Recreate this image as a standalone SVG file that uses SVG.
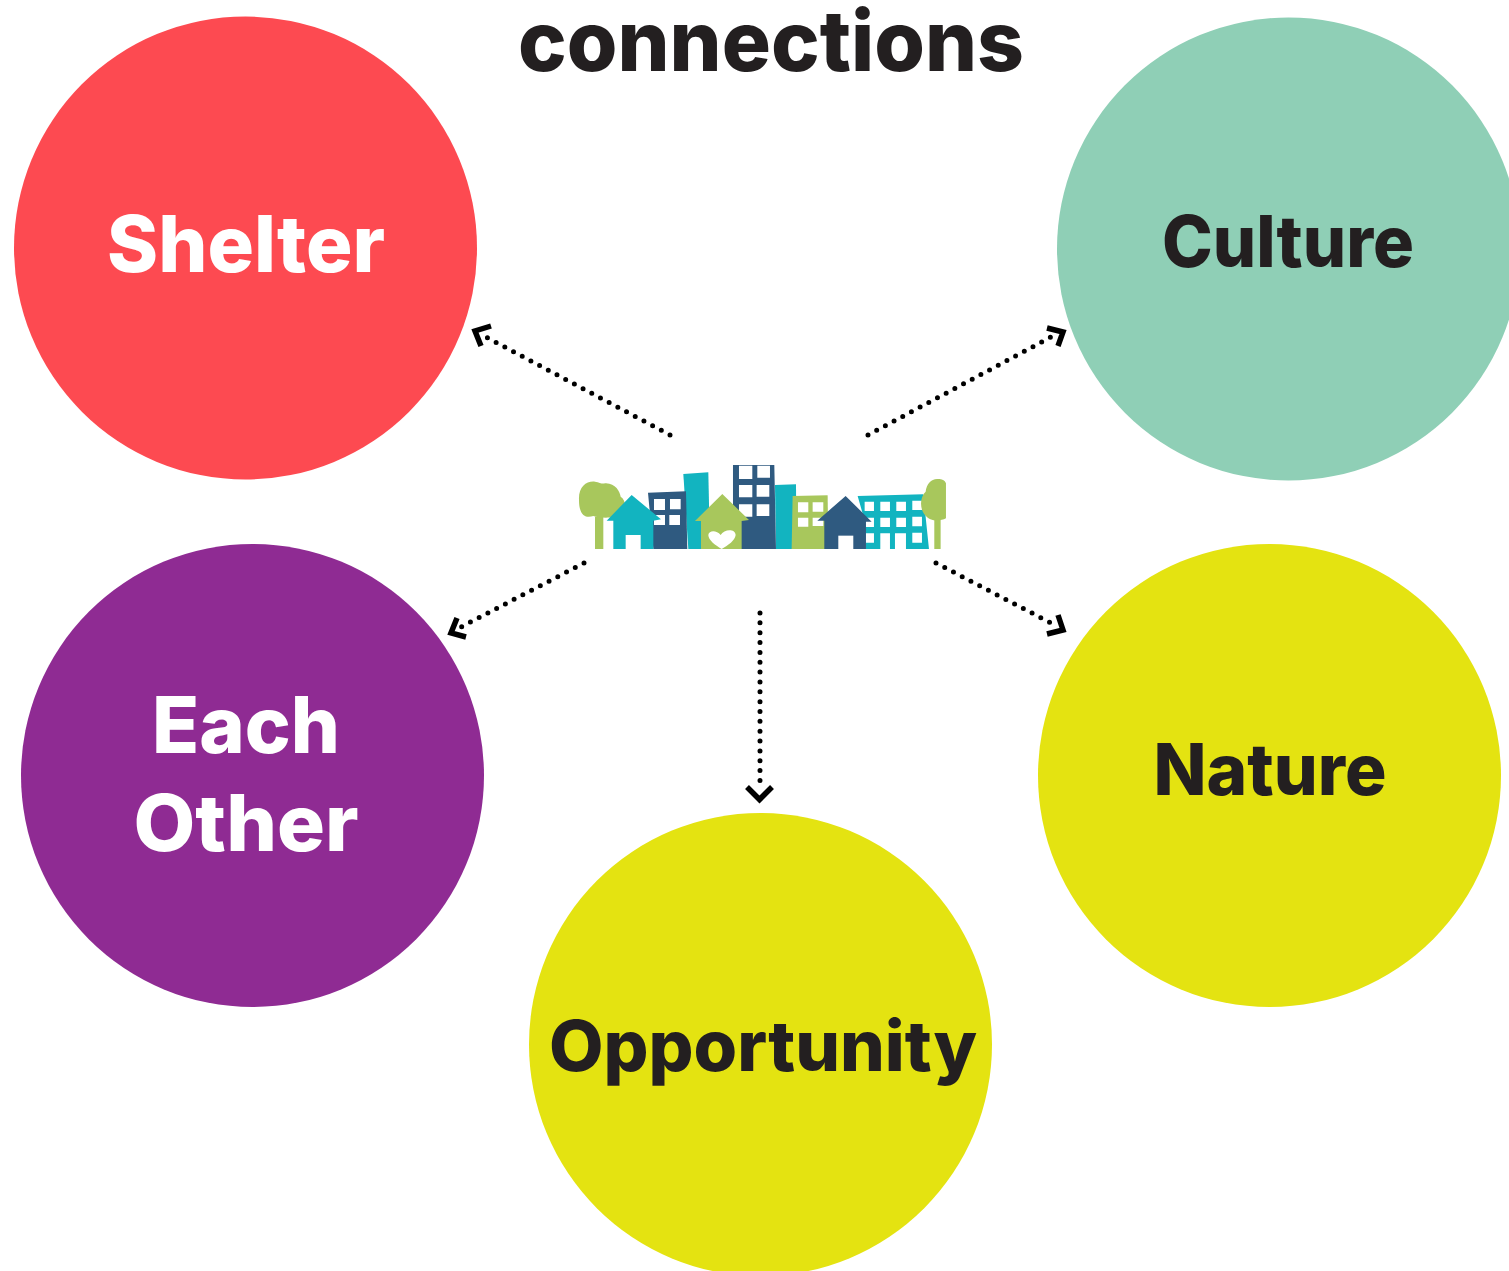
<svg xmlns="http://www.w3.org/2000/svg" width="1509" height="1271" viewBox="0 0 1509 1271">
<style>
.t{font-family:"Inter","Liberation Sans",sans-serif;font-weight:800;text-anchor:middle}
.w{fill:#fff}.k{fill:#231f20}
.d{fill:none;stroke:#000;stroke-width:5;stroke-linecap:round;stroke-dasharray:0 9.85}
.a{fill:none;stroke:#000;stroke-width:5.5;stroke-linecap:butt;stroke-linejoin:miter}
.g{fill:#a8c75c}.n{fill:#2f5a80}.c{fill:#12b4c0}
</style>
<rect width="1509" height="1271" fill="#fff"/>
<text id="title" class="t k" x="771" y="71" font-size="84" textLength="506" lengthAdjust="spacingAndGlyphs">connections</text>
<g id="shelter"><circle cx="245.5" cy="248" r="231.5" fill="#fd4a51"/><text class="t w" x="246" y="272" font-size="78" textLength="278" lengthAdjust="spacingAndGlyphs">Shelter</text></g>
<g id="culture"><circle cx="1288.5" cy="249" r="231.5" fill="#8fcfb6"/><text class="t k" x="1288" y="267" font-size="71" textLength="252" lengthAdjust="spacingAndGlyphs">Culture</text></g>
<g id="each-other"><circle cx="252.5" cy="775.5" r="231.5" fill="#8f2b93"/><text class="t w" x="246" y="753" font-size="78" textLength="188" lengthAdjust="spacingAndGlyphs">Each</text><text class="t w" x="246" y="851" font-size="78" textLength="225" lengthAdjust="spacingAndGlyphs">Other</text></g>
<g id="nature"><circle cx="1269.5" cy="775.5" r="231.5" fill="#e4e311"/><text class="t k" x="1270" y="795" font-size="71" textLength="233" lengthAdjust="spacingAndGlyphs">Nature</text></g>
<g id="opportunity"><circle cx="760.5" cy="1044.5" r="231.5" fill="#e4e311"/><text class="t k" x="763" y="1071" font-size="70" textLength="428" lengthAdjust="spacingAndGlyphs">Opportunity</text></g>
<g id="city" transform="translate(560 450) scale(.3333)">
<path class="g" d="M105 200h25v97h-25z"/>
<path class="g" d="M57 150C55 110 80 92 105 95C120 97 125 103 135 100C165 98 180 125 182 140C198 150 202 180 180 195C165 205 120 205 100 198C80 205 57 200 57 150Z"/>
<path class="c" d="M370 72L445 67L450 297H385Z"/>
<path class="n" d="M264 128L378 124L382 297H280Z"/>
<path class="w" d="M282 147H315V180H282ZM330 147H362V178H330ZM282 195H315V225H282ZM328 195H360V225H328Z"/>
<path class="c" d="M215 135L303 208L280 212V297H160V212L140 212Z"/>
<path class="w" d="M197 255H242V297H197Z"/>
<path class="c" d="M645 105L708 103L710 297H648Z"/>
<path class="n" d="M519 45H643L648 297H543L535 200L519 170Z"/>
<path class="w" d="M537 47H577V87H537ZM592 47H630V83H592ZM537 105H577V142H537ZM590 105H628V140H590ZM537 163H577V200H537ZM590 163H628V198H590Z"/>
<path class="g" d="M487 132L567 210L545 213V297H423V213L405 213Z"/>
<path class="w" d="M485 297C465 285 445 270 445 255C447 240 470 240 482 255C492 238 525 235 527 255C525 272 505 285 485 297Z"/>
<path class="g" d="M698 138L803 136L805 297H695Z"/>
<path class="w" d="M714 157H745V187H714ZM758 157H790V185H758ZM714 203H745V230H714ZM758 203H790V228H758Z"/>
<path class="c" d="M893 138L1090 133L1107 297H918L915 215Z"/>
<path class="w" d="M914 155H942V183H914ZM961 155H990V183H961ZM1009 155H1038V183H1009ZM1057 152H1086V180H1057ZM914 203H942V231H914ZM961 203H990V231H961ZM1009 203H1038V231H1009ZM1057 200H1086V229H1057ZM914 250H942V278H914ZM961 250H990V297H961ZM1005 250H1038V297H1005ZM1057 248H1086V278H1057Z"/>
<path class="n" d="M857 138L935 215L918 215V297H793V212H772Z"/>
<path class="w" d="M835 257H880V297H835Z"/>
<path class="g" d="M1123 210H1142V297H1123Z"/>
<path class="g" d="M1158 100V205C1140 215 1110 215 1095 195C1078 175 1080 140 1097 125C1100 100 1115 85 1135 87C1145 87 1155 90 1158 100Z"/>
</g>
<g id="connectors">
<path class="d" d="M670 435L486 337"/><path class="a" d="M491 326L475 331L481 346"/>
<path class="d" d="M868 435L1051 337"/><path class="a" d="M1047 328L1063 332L1058 346"/>
<path class="d" d="M584 563L461 627"/><path class="a" d="M457 618L451 633L466 637"/>
<path class="d" d="M936 563L1051 623"/><path class="a" d="M1047 634L1063 630L1058 615"/>
<path class="d" d="M760 613V785"/><path class="a" d="M747 787L759.500 799.500L772 787"/>
</g>
</svg>
